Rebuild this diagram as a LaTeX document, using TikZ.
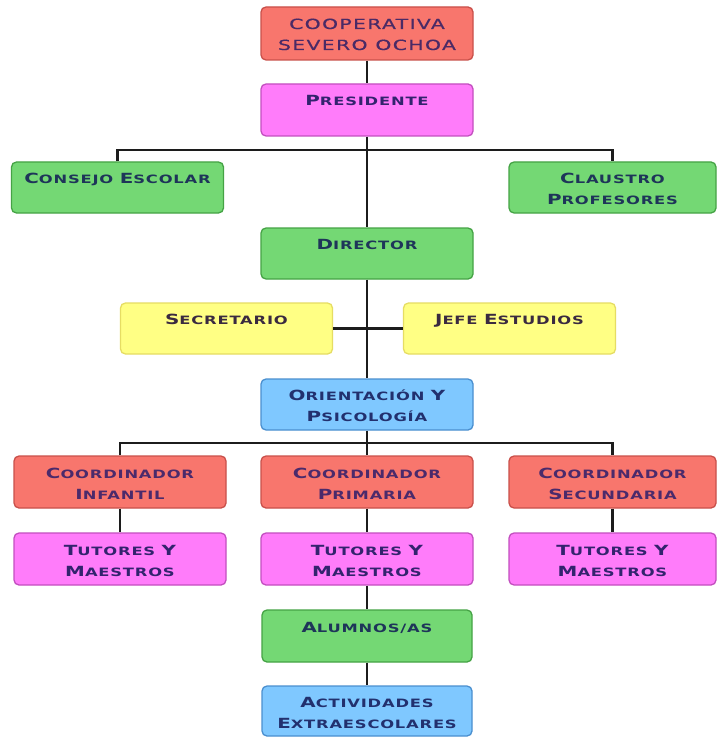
\documentclass[tikz,border=0pt]{standalone}
\usepackage{fontspec}
% wide, heavy lettering for the box labels
\newfontfamily\boxfont{DejaVu Sans}[FakeStretch=1.42, LetterSpace=7]
\newfontfamily\titlefont{DejaVu Sans}[FakeStretch=1.45, LetterSpace=10, FakeBold=0.6]

% colours of the boxes
\definecolor{redfill}{HTML}{F8766D}
\definecolor{reddraw}{HTML}{C9504A}
\definecolor{magfill}{HTML}{FF7CFA}
\definecolor{magdraw}{HTML}{C24FBF}
\definecolor{grnfill}{HTML}{74D874}
\definecolor{grndraw}{HTML}{45A345}
\definecolor{yelfill}{HTML}{FFFF84}
\definecolor{yeldraw}{HTML}{E6DD63}
\definecolor{blufill}{HTML}{7FC8FF}
\definecolor{bludraw}{HTML}{4A8FCF}
\definecolor{redtext}{HTML}{4B2A6B}
\definecolor{magtext}{HTML}{33236E}
\definecolor{grntext}{HTML}{1E3559}
\definecolor{yeltext}{HTML}{3A2A40}
\definecolor{blutext}{HTML}{22306E}
\definecolor{titletext}{HTML}{4A2A66}
\definecolor{linkline}{HTML}{1C1C1C}

% small-caps look: larger initial, smaller rest
\newcommand\initcap[1]{{\fontsize{14}{21}\selectfont #1}}
\newcommand\boxtext[1]{\parbox[c][40pt][t]{200pt}{\centering\boxfont\bfseries\fontsize{11.5}{21}\selectfont\rule{0pt}{16pt}#1}}
\newcommand\titletext[1]{\parbox[c][40pt][t]{200pt}{\centering\titlefont\color{titletext}\fontsize{14}{21}\selectfont\rule{0pt}{15.5pt}#1}}

\tikzset{
  orgbox/.style={rounded corners=5pt, line width=1.3pt, minimum width=212pt,
    minimum height=52pt, inner sep=0pt},
  redbox/.style={orgbox, fill=redfill, draw=reddraw, text=redtext},
  magbox/.style={orgbox, fill=magfill, draw=magdraw, text=magtext},
  grnbox/.style={orgbox, fill=grnfill, draw=grndraw, text=grntext},
  yelbox/.style={orgbox, fill=yelfill, draw=yeldraw, text=yeltext},
  blubox/.style={orgbox, fill=blufill, draw=bludraw, text=blutext},
  link/.style={line width=2.8pt, draw=linkline},
}

\begin{document}
\begin{tikzpicture}[x=1pt, y=-1pt]
\useasboundingbox (0,0) rectangle (719,738);
\fill[white] (0,0) rectangle (719,738);

% boxes
\node[redbox, minimum height=53pt] (coop) at (367,33.5)
  {\titletext{COOPERATIVA\\SEVERO OCHOA}};
\node[magbox] (pres) at (367,110) {\boxtext{\initcap{P}RESIDENTE}};
\node[grnbox, minimum height=51pt] (consejo) at (117.5,187.5)
  {\boxtext{\initcap{C}ONSEJO \initcap{E}SCOLAR}};
\node[grnbox, minimum height=51pt, minimum width=207pt] (claustro) at (612.5,187.5)
  {\boxtext{\initcap{C}LAUSTRO\\\initcap{P}ROFESORES}};
\node[grnbox, minimum height=51pt] (dir) at (367,253.5) {\boxtext{\initcap{D}IRECTOR}};
\node[yelbox, minimum height=51pt] (secr) at (226.5,328.5) {\boxtext{\initcap{S}ECRETARIO}};
\node[yelbox, minimum height=51pt] (jefe) at (509.5,328.5)
  {\boxtext{\initcap{J}EFE \initcap{E}STUDIOS}};
\node[blubox, minimum height=51pt] (orient) at (367,404.5)
  {\boxtext{\initcap{O}RIENTACIÓN \initcap{Y}\\\initcap{P}SICOLOGÍA}};
\node[redbox] (cinf) at (120,482) {\boxtext{\initcap{C}OORDINADOR\\\initcap{I}NFANTIL}};
\node[redbox] (cpri) at (367,482) {\boxtext{\initcap{C}OORDINADOR\\\initcap{P}RIMARIA}};
\node[redbox, minimum width=207pt] (csec) at (612.5,482)
  {\boxtext{\initcap{C}OORDINADOR\\\initcap{S}ECUNDARIA}};
\node[magbox] (tinf) at (120,559) {\boxtext{\initcap{T}UTORES \initcap{Y}\\\initcap{M}AESTROS}};
\node[magbox] (tpri) at (367,559) {\boxtext{\initcap{T}UTORES \initcap{Y}\\\initcap{M}AESTROS}};
\node[magbox, minimum width=207pt] (tsec) at (612.5,559)
  {\boxtext{\initcap{T}UTORES \initcap{Y}\\\initcap{M}AESTROS}};
\node[grnbox, minimum width=210pt] (alum) at (367,636) {\boxtext{\initcap{A}LUMNOS/AS}};
\node[blubox, minimum width=210pt, minimum height=50pt] (activ) at (367,711)
  {\boxtext{\initcap{A}CTIVIDADES\\\initcap{E}XTRAESCOLARES}};

% connectors
\coordinate (busA) at (367,150);
\coordinate (busB) at (367,443);
\draw[link] (coop) -- (pres);
\draw[link] (pres.south) -- (dir.north);
\draw[link] (consejo.north) |- (busA) -| (claustro.north);
\draw[link] (dir.south) -- (orient.north);
\draw[link] (secr.east) -- (jefe.west);
\draw[link] (orient.south) -- (cpri.north);
\draw[link] (cinf.north) |- (busB) -| (csec.north);
\draw[link] (cinf) -- (tinf);
\draw[link] (cpri) -- (tpri);
\draw[link] (csec) -- (tsec);
\draw[link] (tpri) -- (alum);
\draw[link] (alum) -- (activ);
\end{tikzpicture}
\end{document}
